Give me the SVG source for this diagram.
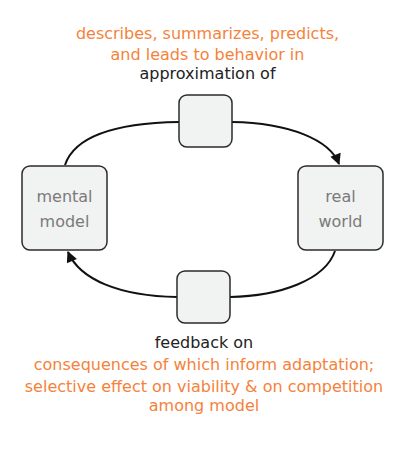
<svg xmlns="http://www.w3.org/2000/svg" width="403" height="458" viewBox="0 0 403 458">
<style>
.box{fill:#f1f2f2;stroke:#2b2b2b;stroke-width:1.5}
.lbl{font-family:"DejaVu Sans",sans-serif;font-size:16px;fill:#7a7a7a;text-anchor:middle}
.t{font-family:"DejaVu Sans",sans-serif;font-size:16px;text-anchor:middle}
.o{fill:#f5823a}
.k{fill:#222}
.c{fill:none;stroke:#111;stroke-width:2}
</style>
<defs>
<marker id="ah" viewBox="0 0 10 10" refX="9" refY="5" markerWidth="13" markerHeight="11" orient="auto" markerUnits="userSpaceOnUse">
<path d="M0,0 L10,5 L0,10 z" fill="#111"/>
</marker>
</defs>
<g id="connectors">
<path class="c" d="M65,165 C75,135 120,123 179,122"/>
<path class="c" d="M232,122 C290,123 330,140 339,164" marker-end="url(#ah)"/>
<path class="c" d="M335,251 C325,280 280,296 230,297"/>
<path class="c" d="M177,297 C120,296 80,280 68,252" marker-end="url(#ah)"/>
</g>
<g id="node-top"><rect class="box" x="179" y="95" width="53" height="52" rx="8"/></g>
<g id="node-bottom"><rect class="box" x="177" y="271" width="53" height="52" rx="8"/></g>
<g id="node-mental"><rect class="box" x="22" y="166" width="85" height="84" rx="8"/>
<text class="lbl" x="64.5" y="202">mental</text><text class="lbl" x="64.5" y="227">model</text></g>
<g id="node-real"><rect class="box" x="298" y="166" width="85" height="84" rx="8"/>
<text class="lbl" x="340.5" y="202">real</text><text class="lbl" x="340.5" y="227">world</text></g>
<g id="label-top">
<text class="t o" x="207.5" y="39">describes, summarizes, predicts,</text>
<text class="t o" x="207.5" y="60">and leads to behavior in</text>
<text class="t k" x="207.5" y="79">approximation of</text>
</g>
<g id="label-bottom">
<text class="t k" x="204" y="348">feedback on</text>
<text class="t o" x="204" y="370">consequences of which inform adaptation;</text>
<text class="t o" x="204" y="392">selective effect on viability &amp; on competition</text>
<text class="t o" x="204" y="411">among model</text>
</g>
</svg>
